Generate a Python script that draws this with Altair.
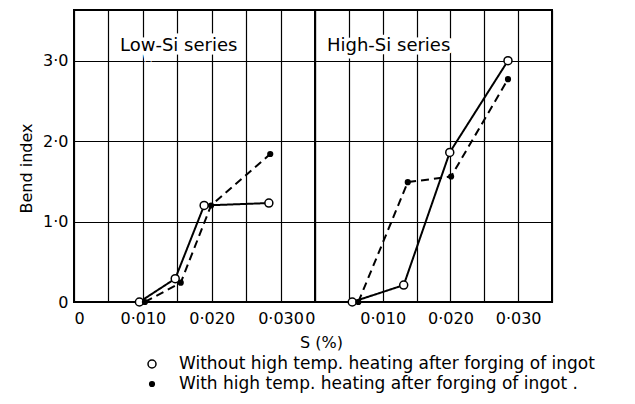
import altair as alt
import pandas as pd

# ---------------- data ----------------
series_names = ["Without high temp. heating after forging of ingot",
                "With high temp. heating after forging of ingot ."]
panel_titles = ["Low-Si series", "High-Si series"]

low_without_s = [0.0095, 0.0147, 0.0189, 0.0283]
low_without_b = [0.0, 0.29, 1.20, 1.23]
low_with_s = [0.0103, 0.0155, 0.0199, 0.0285]
low_with_b = [0.0, 0.24, 1.20, 1.84]

high_without_s = [0.0055, 0.0131, 0.0199, 0.0285]
high_without_b = [0.0, 0.21, 1.86, 3.00]
high_with_s = [0.0064, 0.0137, 0.0201, 0.0285]
high_with_b = [0.0, 1.49, 1.56, 2.77]

x_grid_values = [0.0, 0.005, 0.010, 0.015, 0.020, 0.025, 0.030, 0.035]
y_tick_values = [0, 1, 2, 3]
x_domain = [0, 0.035]
y_domain = [0, 3.63]


def panel_frame(s_without, b_without, s_with, b_with):
    rows = []
    for i, (s, b) in enumerate(zip(s_without, b_without)):
        rows.append({"series": series_names[0], "S": s, "B": b, "order": i})
    for i, (s, b) in enumerate(zip(s_with, b_with)):
        rows.append({"series": series_names[1], "S": s, "B": b, "order": i})
    return pd.DataFrame(rows)


low_df = panel_frame(low_without_s, low_without_b, low_with_s, low_with_b)
high_df = panel_frame(high_without_s, high_without_b, high_with_s, high_with_b)
legend_df = pd.DataFrame({"series": series_names})

FONT = "DejaVu Sans"

x_label_expr = ("abs(datum.value*100 - round(datum.value*100)) < 0.000001 ? "
                "(datum.value == 0 ? '0' : replace(format(datum.value, '.3f'), '.', '·')) : ''")
y_label_expr = "datum.value == 0 ? '0' : replace(format(datum.value, '.1f'), '.', '·')"

fill_scale = alt.Scale(domain=series_names, range=["white", "black"])
size_scale = alt.Scale(domain=series_names, range=[64, 22])


def make_panel(df, title_text, title_dx, width, left):
    xscale = alt.Scale(domain=x_domain, nice=False, zero=False)
    yscale = alt.Scale(domain=y_domain, nice=False)
    if left:
        yaxis = alt.Axis(values=y_tick_values, labelExpr=y_label_expr, title="Bend index",
                         grid=True, ticks=False, domain=False, labelPadding=6,
                         titlePadding=8, titleY=158, titleFontSize=16)
        xaxis = alt.Axis(values=x_grid_values, labelExpr=x_label_expr, title=None,
                         grid=True, ticks=False, domain=False, labelPadding=8)
    else:
        yaxis = alt.Axis(values=y_tick_values, labels=False, title=None,
                         grid=True, ticks=False, domain=False)
        xaxis = alt.Axis(values=x_grid_values, labelExpr=x_label_expr, title="S (%)",
                         grid=True, ticks=False, domain=False, labelPadding=8,
                         labelAlign=alt.condition("datum.value == 0", alt.value("right"), alt.value("center")),
                         titleX=6, titleY=40, titleBaseline="middle",
                         titleAlign="center", titleFontSize=16)

    enc_x = alt.X("S:Q", scale=xscale, axis=xaxis)
    enc_y = alt.Y("B:Q", scale=yscale, axis=yaxis)

    base = alt.Chart(df)
    lines = base.mark_line(color="black", strokeWidth=2).encode(
        x=enc_x,
        y=enc_y,
        strokeDash=alt.StrokeDash("series:N",
                                  scale=alt.Scale(domain=series_names, range=[[1, 0], [8, 5]]),
                                  legend=None),
        detail="series:N",
        order="order:Q",
    )
    points = base.mark_point(filled=True, stroke="black", strokeWidth=1.5, opacity=1).encode(
        x=enc_x,
        y=enc_y,
        fill=alt.Fill("series:N", scale=fill_scale, legend=None),
        size=alt.Size("series:N", scale=size_scale, legend=None),
    )
    tdf = pd.DataFrame({"t": [title_text]})
    halo = alt.Chart(tdf).mark_text(align="left", baseline="middle", font=FONT, fontSize=18,
                                    stroke="white", strokeWidth=7, fill="white").encode(
        text="t:N", x=alt.value(title_dx), y=alt.value(36))
    ttext = alt.Chart(tdf).mark_text(align="left", baseline="middle", font=FONT, fontSize=18,
                                     color="black").encode(
        text="t:N", x=alt.value(title_dx), y=alt.value(36))
    data_layer = alt.layer(lines, halo, ttext, points)

    if left:
        leg_y = alt.Y("series:N",
                      scale=alt.Scale(type="point", domain=series_names, range=[354, 374],
                                      padding=0),
                      axis=None)
        leg_pts = alt.Chart(legend_df).mark_point(
            filled=True, stroke="black", strokeWidth=1.5, opacity=1).encode(
            x=alt.value(78), y=leg_y,
            fill=alt.Fill("series:N", scale=fill_scale, legend=None),
            size=alt.Size("series:N", scale=size_scale, legend=None),
        )
        leg_txt = alt.Chart(legend_df).mark_text(
            align="left", baseline="middle", font=FONT, fontSize=17, color="black").encode(
            x=alt.value(105), y=leg_y, text="series:N")
        legend_layer = alt.layer(leg_pts, leg_txt)
        layer = alt.layer(data_layer, legend_layer).resolve_scale(y="independent")
    else:
        layer = data_layer
    return layer.properties(width=width, height=292)


left_panel = make_panel(low_df, panel_titles[0], 46, 241, True)
right_panel = make_panel(high_df, panel_titles[1], 12, 237, False)

chart = alt.hconcat(left_panel, right_panel, spacing=0, bounds="flush").properties(
    padding={"left": 9, "top": 1, "right": 5, "bottom": 5},
    background="white",
).configure_view(
    stroke="black", strokeWidth=2
).configure_axis(
    gridColor="black", gridWidth=1.2, gridOpacity=1,
    labelFont=FONT, labelFontSize=16, labelColor="black",
    titleFont=FONT, titleColor="black", titleFontWeight="normal",
).configure_text(font=FONT)

chart.save("out.html", embed_options={"renderer": "svg", "actions": False})
